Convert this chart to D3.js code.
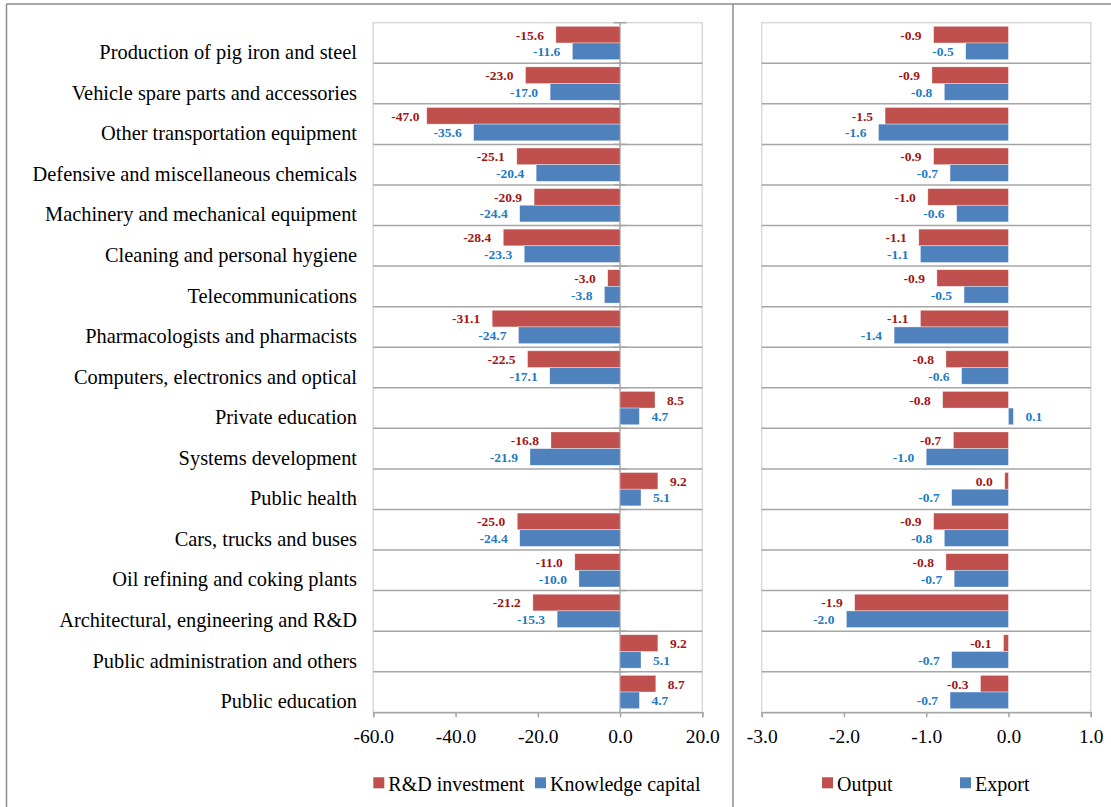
<!DOCTYPE html>
<html>
<head>
<meta charset="utf-8">
<script src="https://cdn.jsdelivr.net/npm/d3@7"></script>
<style>
  html, body { margin: 0; padding: 0; background: #fff; }
  svg { display: block; }
</style>
</head>
<body>
<div id="chart"></div>
<script>
const categories = [
  "Production of pig iron and steel",
  "Vehicle spare parts and accessories",
  "Other transportation equipment",
  "Defensive and miscellaneous chemicals",
  "Machinery and mechanical equipment",
  "Cleaning and personal hygiene",
  "Telecommunications",
  "Pharmacologists and pharmacists",
  "Computers, electronics and optical",
  "Private education",
  "Systems development",
  "Public health",
  "Cars, trucks and buses",
  "Oil refining and coking plants",
  "Architectural, engineering and R&D",
  "Public administration and others",
  "Public education"
];
const rdInvestment     = [-15.6, -23.0, -47.0, -25.1, -20.9, -28.4, -3.0, -31.1, -22.5, 8.5, -16.8, 9.2, -25.0, -11.0, -21.2, 9.2, 8.7];
const knowledgeCapital = [-11.6, -17.0, -35.6, -20.4, -24.4, -23.3, -3.8, -24.7, -17.1, 4.7, -21.9, 5.1, -24.4, -10.0, -15.3, 5.1, 4.7];
const outputVals       = [-0.91, -0.93, -1.50, -0.91, -0.98, -1.09, -0.87, -1.07, -0.76, -0.80, -0.67, -0.045, -0.91, -0.76, -1.87, -0.06, -0.34];
const exportVals       = [-0.52, -0.78, -1.58, -0.71, -0.63, -1.07, -0.54, -1.39, -0.57, 0.06, -1.00, -0.69, -0.78, -0.66, -1.97, -0.69, -0.71];
const leftTicks  = [-60, -40, -20, 0, 20];
const rightTicks = [-3, -2, -1, 0, 1];
const leftLegend  = ["R&D investment", "Knowledge capital"];
const rightLegend = ["Output", "Export"];

const W = 1111, H = 807;
const FONT = "'Liberation Serif', 'Times New Roman', serif";
const RED = "#C0504D", BLUE = "#4F81BD";
const RED_TXT = "#A31515", BLUE_TXT = "#1F7BC4";
const GRID = "#A6A6A6", BORDER = "#D9D9D9", FRAME = "#8C8C8C";

const fmt = d3.formatLocale({decimal: ".", thousands: ",", grouping: [3], currency: ["", ""], minus: "-"}).format(".1f");
const labelFmt = v => { let s = fmt(v); if (s === "-0.0") s = "0.0"; return s; };

const svg = d3.select("#chart").append("svg").attr("width", W).attr("height", H)
  .style("font-family", FONT);

// Outer frame
svg.append("line").attr("x1", 6.5).attr("x2", W).attr("y1", 4).attr("y2", 4).attr("stroke", FRAME).attr("stroke-width", 1.5);
svg.append("line").attr("x1", 6.5).attr("x2", 6.5).attr("y1", 4).attr("y2", H).attr("stroke", FRAME).attr("stroke-width", 1.5);
svg.append("line").attr("x1", 733).attr("x2", 733).attr("y1", 4).attr("y2", H).attr("stroke", FRAME).attr("stroke-width", 1.5);

const TOP = 22.7, BOTTOM = 712.3;
const y = d3.scaleBand().domain(categories).range([TOP, BOTTOM]).padding(0);
const sub = d3.scaleBand().domain([0, 1]).range([0, y.bandwidth()]).paddingInner(0).paddingOuter(0.216);

const xL = d3.scaleLinear().domain([-60, 20]).range([373.3, 702.3]);
const xR = d3.scaleLinear().domain([-3, 1]).range([761.7, 1090.7]);

function drawPanel(x, ticks, s1, s2, showZeroAxis, legendNames, legendPos) {
  const g = svg.append("g");
  const [x0, x1] = x.range();
  // plot area border
  g.append("rect").attr("x", x0).attr("y", TOP).attr("width", x1 - x0).attr("height", BOTTOM - TOP)
    .attr("fill", "none").attr("stroke", BORDER).attr("stroke-width", 1.5);
  // row gridlines
  categories.slice(1).forEach(c => {
    g.append("line").attr("x1", x0).attr("x2", x1).attr("y1", y(c)).attr("y2", y(c))
      .attr("stroke", GRID).attr("stroke-width", 1.5);
  });
  // zero (category) axis
  if (showZeroAxis) {
    const zx = x(0);
    g.append("line").attr("x1", zx).attr("x2", zx).attr("y1", TOP).attr("y2", BOTTOM)
      .attr("stroke", GRID).attr("stroke-width", 1.5);
    categories.forEach(c => {
      g.append("line").attr("x1", zx - 6.5).attr("x2", zx + 6.5).attr("y1", y(c)).attr("y2", y(c))
        .attr("stroke", GRID).attr("stroke-width", 1.5);
    });
  }
  const series = [{vals: s1, color: RED, txt: RED_TXT, k: 0}, {vals: s2, color: BLUE, txt: BLUE_TXT, k: 1}];
  series.forEach(s => {
    g.selectAll(null).data(categories).enter().append("rect")
      .attr("x", (c, i) => Math.min(x(0), x(s.vals[i])))
      .attr("width", (c, i) => Math.abs(x(s.vals[i]) - x(0)))
      .attr("y", c => y(c) + sub(s.k))
      .attr("height", sub.bandwidth())
      .attr("fill", s.color)
      .attr("stroke", "#fff").attr("stroke-opacity", 0.6).attr("stroke-width", 0.6);
    g.selectAll(null).data(categories).enter().append("text")
      .attr("y", c => y(c) + sub(s.k) + sub.bandwidth() / 2)
      .attr("dy", "0.36em")
      .attr("fill", s.txt)
      .style("font-family", FONT)
      .style("font-size", "13.5px").style("font-weight", "bold")
      .text((c, i) => labelFmt(s.vals[i]))
      .each(function (c, i) {
        const v = s.vals[i];
        const t = d3.select(this);
        const w = this.getComputedTextLength();
        if (v < 0) {
          let right = x(v) - 12;
          if (right - w < x0 + 18) right = x0 + 18 + w;
          t.attr("x", right).attr("text-anchor", "end");
        } else {
          t.attr("x", x(v) + 12).attr("text-anchor", "start");
        }
      });
  });
  // bottom axis
  const ax = g.append("g").attr("transform", `translate(0,${BOTTOM})`)
    .call(d3.axisBottom(x).tickValues(ticks).tickSize(5).tickSizeOuter(5).tickFormat(fmt));
  ax.select(".domain").attr("stroke", GRID).attr("stroke-width", 1.5);
  ax.selectAll(".tick line").attr("stroke", GRID).attr("stroke-width", 1.5);
  ax.selectAll(".tick text").attr("y", 31).attr("dy", 0)
    .attr("fill", "#000").style("font-size", "19.5px").style("font-family", FONT);
  // legend
  const cols = [RED, BLUE];
  legendNames.forEach((name, i) => {
    const lx = legendPos[i];
    g.append("rect").attr("x", lx).attr("y", 777.3).attr("width", 11).attr("height", 11).attr("fill", cols[i]);
    g.append("text").attr("x", lx + 15).attr("y", 790.5).attr("fill", "#000")
      .style("font-size", "20px").text(name);
  });
}

drawPanel(xL, leftTicks, rdInvestment, knowledgeCapital, true, leftLegend, [373.3, 535]);
drawPanel(xR, rightTicks, outputVals, exportVals, false, rightLegend, [822, 960]);

// category labels
svg.append("g").selectAll("text").data(categories).enter().append("text")
  .attr("x", 357)
  .attr("y", c => y(c) + y.bandwidth() / 2 + 9)
  .attr("dy", "0.35em")
  .attr("text-anchor", "end")
  .attr("fill", "#000")
  .style("font-size", "20.4px")
  .text(d => d);
</script>
</body>
</html>
